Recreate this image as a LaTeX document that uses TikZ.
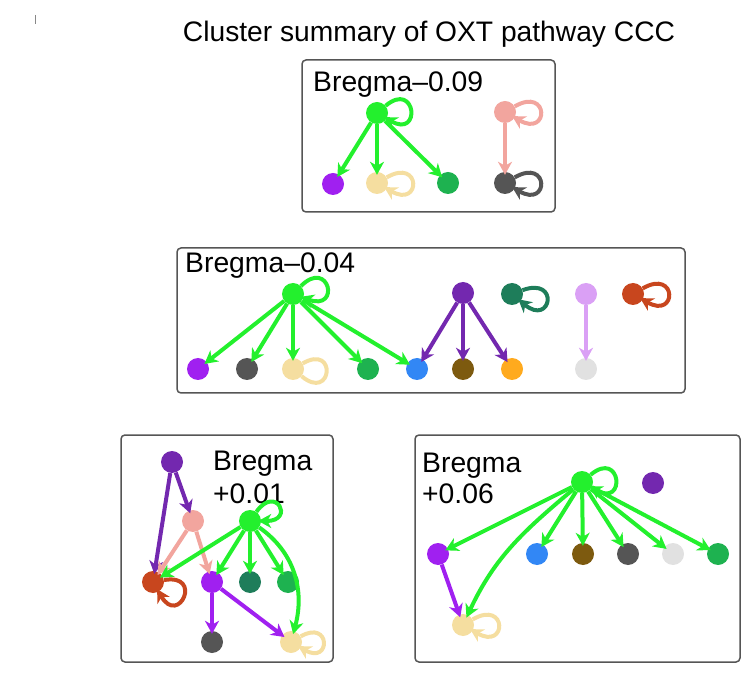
\documentclass[tikz,border=0pt]{standalone}
\usepackage{fontspec}
\setmainfont{Liberation Sans}
\usetikzlibrary{arrows.meta}
\definecolor{hubgreen}{RGB}{35,240,45}
\definecolor{cviolet}{RGB}{160,32,240}
\definecolor{cpurple}{RGB}{115,40,175}
\definecolor{cwheat}{RGB}{245,222,160}
\definecolor{cgreen}{RGB}{30,178,80}
\definecolor{cteal}{RGB}{30,125,90}
\definecolor{cgray}{RGB}{85,85,85}
\definecolor{cpink}{RGB}{242,165,158}
\definecolor{clilac}{RGB}{218,160,245}
\definecolor{crust}{RGB}{200,70,30}
\definecolor{cblue}{RGB}{50,135,245}
\definecolor{cbrown}{RGB}{125,90,15}
\definecolor{corange}{RGB}{255,170,30}
\definecolor{clight}{RGB}{225,225,225}
\definecolor{frame}{RGB}{85,85,85}

\begin{document}
\begin{tikzpicture}[x=1pt,y=1pt,
  dot/.style={circle,fill=#1,inner sep=0pt,minimum size=22pt},
  lnk/.style={draw=#1,line width=4pt,shorten >=-3pt,-{Stealth[length=13pt,width=14pt,inset=4pt]}},
  self/.style={loop,looseness=8,min distance=40pt,shorten >=0pt},
  panel/.style={draw=frame,line width=1.5pt,rounded corners=4pt},
  lbl/.style={anchor=base west,inner sep=0pt,font=\fontsize{28.3}{33}\selectfont}]
\useasboundingbox (0,0) rectangle (754,691);
\draw[cgray!70,line width=1pt] (35,676) -- (35,667);
\node[anchor=base,inner sep=0pt,font=\fontsize{28.2}{33}\selectfont] (title) at (429,649) {Cluster summary of OXT pathway CCC};

\draw[panel] (302,479) rectangle (555,631);
\node[lbl] (lab1) at (313,599) {Bregma\textendash0.09};
\node[dot=hubgreen] (g1) at (377,578) {};
\node[dot=cviolet] (p1) at (333,507) {};
\node[dot=cwheat] (w1) at (377,508) {};
\node[dot=cgreen] (m1) at (448,508) {};
\node[dot=cpink] (k1) at (505,579) {};
\node[dot=cgray] (d1) at (505,508) {};
\draw[lnk=hubgreen] (g1) to[self,out=40,in=-30] (g1);
\draw[lnk=hubgreen] (g1) -- (p1);
\draw[lnk=hubgreen] (g1) -- (w1);
\draw[lnk=hubgreen] (g1) -- (m1);
\draw[lnk=cwheat] (w1) to[self,out=30,in=-30] (w1);
\draw[lnk=cpink] (k1) to[self,out=30,in=-30] (k1);
\draw[lnk=cpink] (k1) -- (d1);
\draw[lnk=cgray] (d1) to[self,out=30,in=-30] (d1);

\draw[panel] (177,298) rectangle (685,443);
\node[lbl] (lab2) at (185,418) {Bregma\textendash0.04};
\node[dot=hubgreen] (g2) at (293,397) {};
\node[dot=cpurple] (u2) at (463,398) {};
\node[dot=cteal] (t2) at (512,397) {};
\node[dot=clilac] (l2) at (586,397) {};
\node[dot=crust] (r2) at (633,397) {};
\node[dot=cviolet] (p2) at (198,322) {};
\node[dot=cgray] (d2) at (247,322) {};
\node[dot=cwheat] (w2) at (293,322) {};
\node[dot=cgreen] (m2) at (368,322) {};
\node[dot=cblue] (b2) at (417,322) {};
\node[dot=cbrown] (n2) at (463,322) {};
\node[dot=corange] (o2) at (512,322) {};
\node[dot=clight] (e2) at (586,322) {};
\draw[lnk=hubgreen] (g2) to[self,out=45,in=-20] (g2);
\draw[lnk=hubgreen] (g2) -- (p2);
\draw[lnk=hubgreen] (g2) -- (d2);
\draw[lnk=hubgreen] (g2) -- (w2);
\draw[lnk=hubgreen] (g2) -- (m2);
\draw[lnk=hubgreen] (g2) -- (b2);
\draw[lnk=cpurple] (u2) -- (b2);
\draw[lnk=cpurple] (u2) -- (n2);
\draw[lnk=cpurple] (u2) -- (o2);
\draw[lnk=cteal] (t2) to[self,out=20,in=-40] (t2);
\draw[lnk=clilac] (l2) -- (e2);
\draw[lnk=crust] (r2) to[self,out=30,in=-30] (r2);
\draw[cwheat,line width=4pt] (w2) to[self,out=30,in=-40] (w2);

\draw[panel] (121,29) rectangle (333,256);
\node[lbl] (lab3a) at (213,221) {Bregma};
\node[lbl] (lab3b) at (213,188) {+0.01};
\node[dot=cpurple] (u3) at (172,229) {};
\node[dot=cpink] (k3) at (193,170) {};
\node[dot=hubgreen] (g3) at (250,170) {};
\node[dot=crust] (r3) at (153,109) {};
\node[dot=cviolet] (p3) at (212,109) {};
\node[dot=cteal] (t3) at (250,109) {};
\node[dot=cgreen] (m3) at (288,109) {};
\node[dot=cgray] (d3) at (212,49) {};
\node[dot=cwheat] (w3) at (291,49) {};
\draw[lnk=cpurple] (u3) -- (k3);
\draw[lnk=cpurple] (u3) -- (r3);
\draw[lnk=cpink] (k3) -- (r3);
\draw[lnk=cpink] (k3) -- (p3);
\draw[lnk=hubgreen] (g3) to[self,out=55,in=0,min distance=34pt] (g3);
\draw[lnk=hubgreen] (g3) -- (r3);
\draw[lnk=hubgreen] (g3) -- (p3);
\draw[lnk=hubgreen] (g3) -- (t3);
\draw[lnk=hubgreen] (g3) -- (m3);
\draw[lnk=hubgreen] (g3) to[out=-35,in=75] (w3);
\draw[lnk=crust] (r3) to[self,out=10,in=-60,min distance=34pt] (r3);
\draw[lnk=cviolet] (p3) -- (d3);
\draw[lnk=cviolet] (p3) -- (w3);
\draw[lnk=cwheat] (w3) to[self,out=30,in=-30,min distance=34pt] (w3);

\draw[panel] (415,29) rectangle (740,256);
\node[lbl] (lab4a) at (422,219) {Bregma};
\node[lbl] (lab4b) at (422,188) {+0.06};
\node[dot=hubgreen] (g4) at (582,209) {};
\node[dot=cpurple] (u4) at (653,208) {};
\node[dot=cviolet] (p4) at (438,137) {};
\node[dot=cblue] (b4) at (537,137) {};
\node[dot=cbrown] (n4) at (583,137) {};
\node[dot=cgray] (d4) at (628,137) {};
\node[dot=clight] (e4) at (673,137) {};
\node[dot=cgreen] (m4) at (718,137) {};
\node[dot=cwheat] (w4) at (463,66) {};
\draw[lnk=hubgreen] (g4) to[self,out=40,in=-30] (g4);
\draw[lnk=hubgreen] (g4) -- (p4);
\draw[lnk=hubgreen] (g4) -- (b4);
\draw[lnk=hubgreen] (g4) -- (n4);
\draw[lnk=hubgreen] (g4) -- (d4);
\draw[lnk=hubgreen] (g4) -- (e4);
\draw[lnk=hubgreen] (g4) -- (m4);
\draw[lnk=hubgreen] (g4) to[out=-140,in=65] (w4);
\draw[lnk=cviolet] (p4) -- (w4);
\draw[lnk=cwheat] (w4) to[self,out=30,in=-30] (w4);
\end{tikzpicture}
\end{document}
